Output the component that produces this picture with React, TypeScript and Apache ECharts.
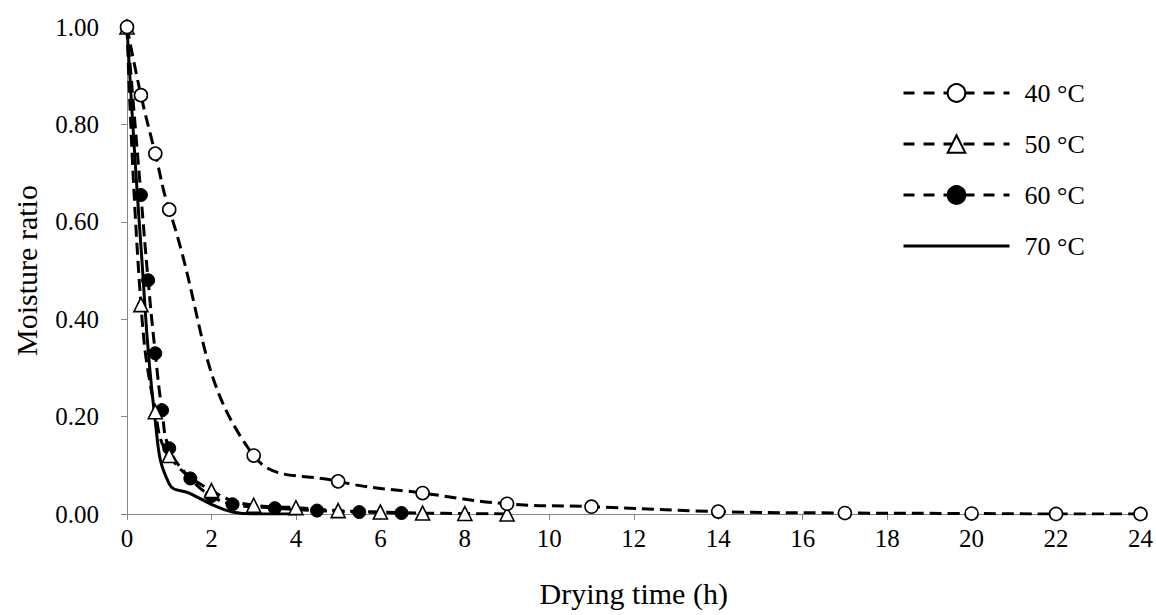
import React, { useEffect, useRef } from "react";
import * as echarts from "echarts";

const xTicks = [0, 2, 4, 6, 8, 10, 12, 14, 16, 18, 20, 22, 24];
const yTicks = [0, 0.2, 0.4, 0.6, 0.8, 1.0];

const t40 = [0, 0.33, 0.67, 1, 3, 5, 7, 9, 11, 14, 17, 20, 22, 24];
const mr40 = [1.0, 0.86, 0.74, 0.625, 0.12, 0.067, 0.043, 0.021, 0.015, 0.005, 0.002, 0.001, 0.0, 0.0];

const t50 = [0, 0.33, 0.67, 1, 2, 3, 4, 5, 6, 7, 8, 9];
const mr50 = [1.0, 0.43, 0.21, 0.12, 0.048, 0.018, 0.013, 0.007, 0.004, 0.002, 0.001, 0.0];

const t60 = [0, 0.33, 0.5, 0.67, 0.83, 1, 1.5, 2, 2.5, 3.5, 4.5, 5.5, 6.5];
const mr60 = [1.0, 0.655, 0.48, 0.33, 0.213, 0.135, 0.073, 0.037, 0.02, 0.012, 0.007, 0.004, 0.002];

const t70 = [0, 0.33, 0.67, 1, 1.5, 2, 2.5, 3, 4];
const mr70 = [1.0, 0.55, 0.19, 0.062, 0.042, 0.02, 0.004, 0.0, 0.0];

const names = ["40 °C", "50 °C", "60 °C", "70 °C"];

const pairs = (t: number[], v: number[]) => t.map((x, i) => [x, v[i]]);

const FONT = "'Liberation Serif', 'Times New Roman', serif";

export default function App() {
  const ref = useRef<HTMLDivElement>(null);
  useEffect(() => {
    if (!ref.current) return;
    const chart = echarts.init(ref.current, null, { renderer: "svg" });
    const dash = [12, 6];
    const legendDash = [11, 9];
    const base = {
      type: "line",
      smooth: 0.45,
      z: 2,
    };
    chart.setOption({
      animation: false,
      backgroundColor: "#ffffff",
      textStyle: { fontFamily: FONT, color: "#000" },
      grid: { left: 127, right: 13, top: 27, bottom: 101, containLabel: false },
      legend: {
        orient: "vertical",
        left: 902,
        top: 80,
        padding: 0,
        itemWidth: 106,
        itemHeight: 22,
        itemGap: 25,
        lineStyle: { type: legendDash, width: 3, color: "#000" },
        textStyle: { fontFamily: FONT, fontSize: 26, color: "#000", padding: [0, 0, 0, 10] },
        data: [
          { name: names[0] },
          { name: names[1] },
          { name: names[2] },
          {
            name: names[3],
            itemStyle: { opacity: 0, color: "rgba(0,0,0,0)", borderWidth: 0 },
            lineStyle: { type: "solid", width: 3, color: "#000" },
          },
        ],
      },
      xAxis: {
        type: "value",
        min: 0,
        max: 24,
        interval: 2,
        name: "Drying time (h)",
        nameLocation: "middle",
        nameGap: 64,
        nameTextStyle: { fontFamily: FONT, fontSize: 30, color: "#000" },
        axisLine: { lineStyle: { color: "#868686", width: 1 } },
        axisTick: { show: true, inside: false, length: 6, lineStyle: { color: "#868686" } },
        axisLabel: {
          fontFamily: FONT,
          fontSize: 25,
          color: "#000",
          margin: 12,
          formatter: (v: number) => (xTicks.includes(v) ? String(v) : ""),
        },
        splitLine: { show: false },
      },
      yAxis: {
        type: "value",
        min: 0,
        max: 1,
        interval: 0.2,
        name: "Moisture ratio",
        nameLocation: "middle",
        nameGap: 86,
        nameRotate: 90,
        nameTextStyle: { fontFamily: FONT, fontSize: 30, color: "#000" },
        axisLine: { show: true, lineStyle: { color: "#868686", width: 1 } },
        axisTick: { show: true, inside: false, length: 6, lineStyle: { color: "#868686" } },
        axisLabel: {
          fontFamily: FONT,
          fontSize: 25,
          color: "#000",
          margin: 28,
          formatter: (v: number) => {
            const m = yTicks.find((y) => Math.abs(y - v) < 1e-9);
            return m !== undefined ? m.toFixed(2) : "";
          },
        },
        splitLine: { show: false },
      },
      series: [
        {
          ...base,
          name: names[3],
          data: pairs(t70, mr70),
          symbol: "none",
          showSymbol: false,
          lineStyle: { color: "#000", width: 3, type: "solid" },
          itemStyle: { color: "rgba(0,0,0,0)", borderWidth: 0 },
        },
        {
          ...base,
          name: names[2],
          data: pairs(t60, mr60),
          symbol: "circle",
          symbolSize: 13,
          lineStyle: { color: "#000", width: 3, type: dash },
          itemStyle: { color: "#000", borderColor: "#000", borderWidth: 1 },
        },
        {
          ...base,
          name: names[1],
          data: pairs(t50, mr50),
          symbol: "triangle",
          symbolSize: 14,
          lineStyle: { color: "#000", width: 3, type: dash },
          itemStyle: { color: "#fff", borderColor: "#000", borderWidth: 1.6 },
        },
        {
          ...base,
          name: names[0],
          data: pairs(t40, mr40),
          symbol: "circle",
          symbolSize: 13,
          lineStyle: { color: "#000", width: 3, type: dash },
          itemStyle: { color: "#fff", borderColor: "#000", borderWidth: 1.6 },
        },
      ],
    });
    return () => chart.dispose();
  }, []);
  return (
    <div
      ref={ref}
      style={{ position: "fixed", left: 0, top: 0, width: 1156, height: 615 }}
    />
  );
}
